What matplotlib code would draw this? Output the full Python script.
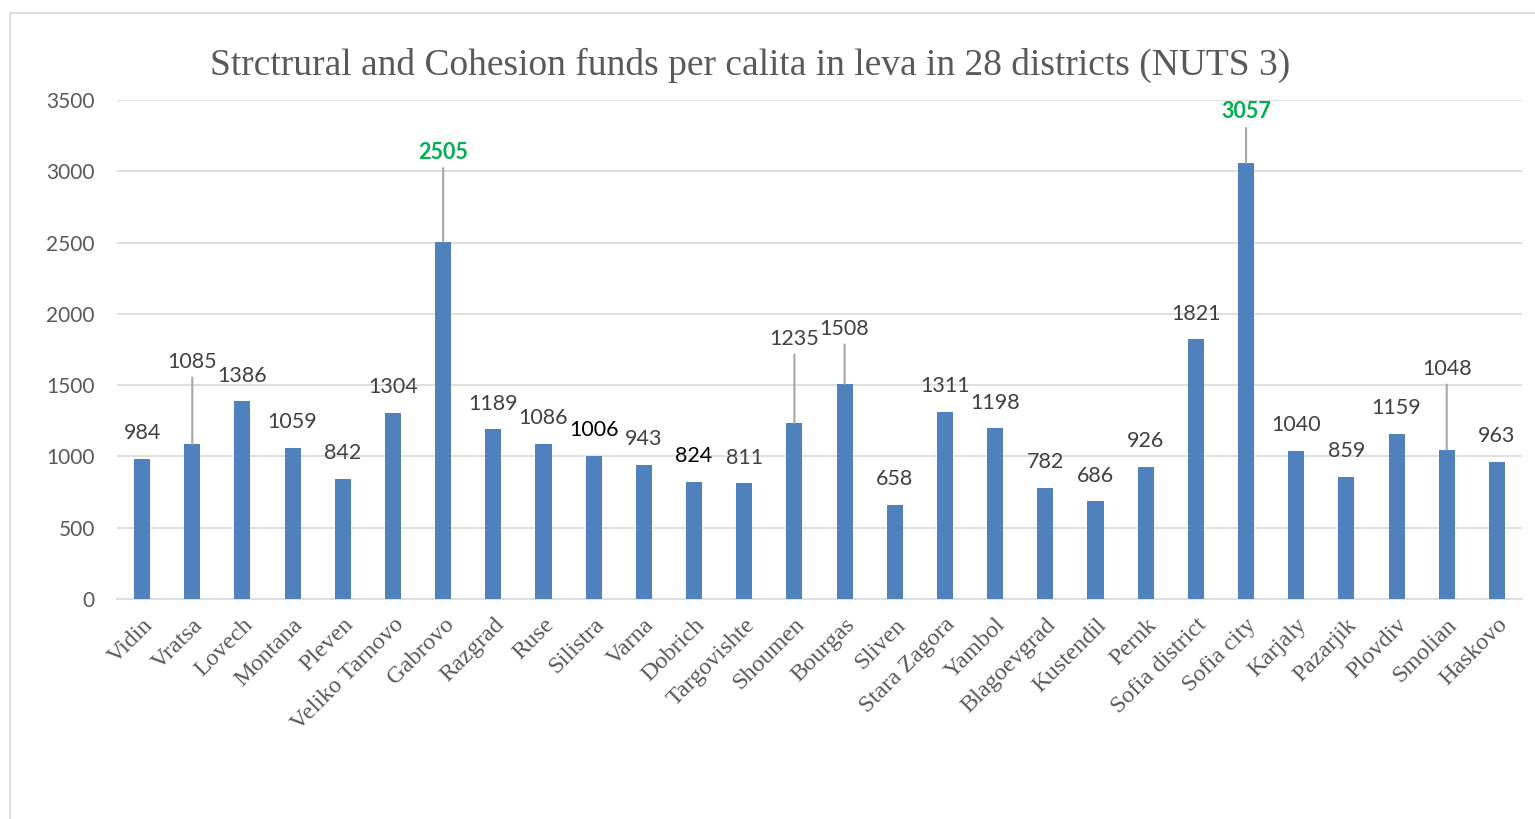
import matplotlib.pyplot as plt
from matplotlib.patches import Rectangle

# Data
districts = ["Vidin", "Vratsa", "Lovech", "Montana", "Pleven", "Veliko Tarnovo",
             "Gabrovo", "Razgrad", "Ruse", "Silistra", "Varna", "Dobrich",
             "Targovishte", "Shoumen", "Bourgas", "Sliven", "Stara Zagora",
             "Yambol", "Blagoevgrad", "Kustendil", "Pernk", "Sofia district",
             "Sofia city", "Karjaly", "Pazarjik", "Plovdiv", "Smolian", "Haskovo"]
funds = [984, 1085, 1386, 1059, 842, 1304, 2505, 1189, 1086, 1006, 943, 824,
         811, 1235, 1508, 658, 1311, 1198, 782, 686, 926, 1821, 3057, 1040,
         859, 1159, 1048, 963]

# labels moved up with a leader line (label height in data units)
moved_labels = {"Vratsa": 1662, "Gabrovo": 3135, "Shoumen": 1824,
                "Bourgas": 1894, "Sofia city": 3416, "Smolian": 1613}
highlight = ["Gabrovo", "Sofia city"]
black_labels = ["Silistra", "Dobrich"]

grey = "#595959"
sans = "Lato"
serif = "Liberation Serif"

fig = plt.figure(figsize=(15.35, 8.19), dpi=100)
ax = fig.add_axes([117/1535, 1 - 599/819, 1405/1535, 499/819])

# chart border
fig.patches.append(Rectangle((10/1535, -0.1), 1.2, 1 - 13/819 + 0.1,
                             transform=fig.transFigure, fill=False,
                             edgecolor="#d9d9d9", linewidth=1.2))

x = list(range(len(districts)))
ax.bar(x, funds, width=0.32, color="#4f81bd", zorder=3)

ax.set_xlim(-0.5, len(districts) - 0.5)
ax.set_ylim(0, 3500)
ax.set_yticks(range(0, 3501, 500))
ax.yaxis.grid(True, color="#d9d9d9", linewidth=1.2, zorder=0)
ax.set_axisbelow(True)
for s in ["top", "right", "left"]:
    ax.spines[s].set_visible(False)
ax.spines["bottom"].set_color("#d9d9d9")
ax.spines["bottom"].set_linewidth(1.2)

ax.tick_params(axis="y", length=0, pad=16, labelcolor=grey, labelsize=15)
for t in ax.get_yticklabels():
    t.set_fontfamily(sans)
ax.set_xticks(x)
ax.set_xticklabels(districts, rotation=45, ha="right", rotation_mode="anchor",
                   fontfamily=serif, fontsize=17.5, color=grey)
ax.tick_params(axis="x", length=0, pad=11)

for i, (name, v) in enumerate(zip(districts, funds)):
    color = "#404040"
    weight = "normal"
    if name in highlight:
        color = "#00b050"
        weight = "bold"
    elif name in black_labels:
        color = "black"
    if name in moved_labels:
        ax.annotate(str(v), xy=(i, v), xytext=(i, moved_labels[name]),
                    textcoords="data", ha="center", va="center",
                    fontsize=15.5, fontfamily=sans, color=color, fontweight=weight,
                    arrowprops=dict(arrowstyle="-", color="#a6a6a6", lw=1.5,
                                    shrinkA=2, shrinkB=0))
    else:
        ax.annotate(str(v), xy=(i, v), xytext=(0, 18.5), textcoords="offset points",
                    ha="center", va="center", fontsize=15.5, fontfamily=sans,
                    color=color, fontweight=weight)

fig.text(750/1535, 1 - 65/819,
         "Strctrural and Cohesion funds per calita in leva in 28 districts (NUTS 3)",
         ha="center", va="center", fontfamily=serif, fontsize=27, color=grey)

fig.savefig("out.png", dpi=100)
